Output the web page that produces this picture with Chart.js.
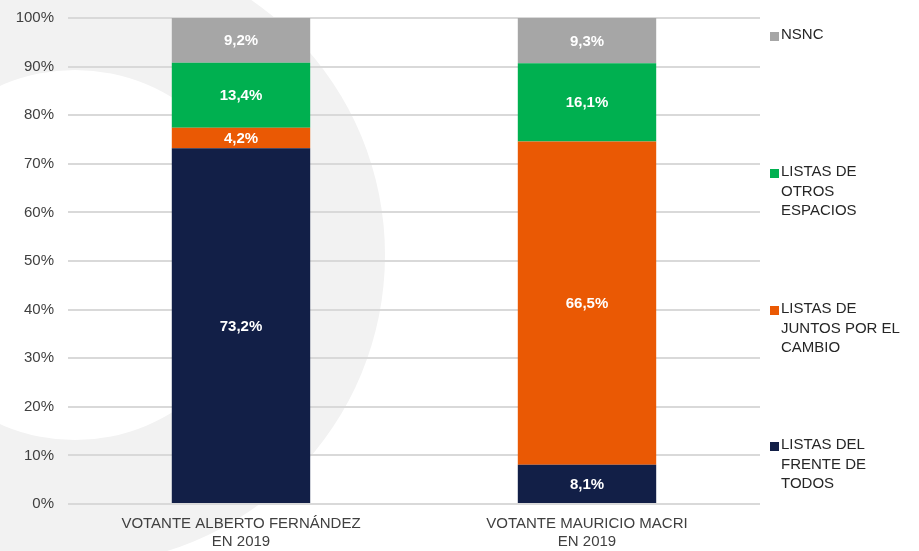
<!DOCTYPE html>
<html>
<head>
<meta charset="utf-8">
<script src="https://cdn.jsdelivr.net/npm/chart.js@4.4.1/dist/chart.umd.min.js"></script>
<style>
    body { margin: 0; background: #ffffff; }
    #wrap { width: 919px; height: 551px; }
</style>
</head>
<body>
<div id="wrap"><canvas id="myChart1" width="919" height="551"></canvas></div>
<script>
// categories and values (percent of each voter group)
const categories = [
    ["VOTANTE ALBERTO FERNÁNDEZ", "EN 2019"],
    ["VOTANTE MAURICIO MACRI", "EN 2019"]
];
const frente_de_todos = [73.2, 8.1];
const juntos_por_el_cambio = [4.2, 66.5];
const otros_espacios = [13.4, 16.1];
const nsnc = [9.2, 9.3];

const series_names = ["LISTAS DEL FRENTE DE TODOS", "LISTAS DE JUNTOS POR EL CAMBIO", "LISTAS DE OTROS ESPACIOS", "NSNC"];
const legend_lines = [
    ["LISTAS DEL", "FRENTE DE", "TODOS"],
    ["LISTAS DE", "JUNTOS POR EL", "CAMBIO"],
    ["LISTAS DE", "OTROS", "ESPACIOS"],
    ["NSNC"]
];
const y_min = 0;
const y_max = 100;
const y_step = 10;

const FONT = "'Liberation Sans', Arial, sans-serif";
const TEXT_COLOR = "#404040";

// grey ring watermark behind the plot
const ringPlugin = {
    id: "ring",
    beforeDraw(chart) {
        const ctx = chart.ctx;
        ctx.save();
        ctx.fillStyle = "#ffffff";
        ctx.fillRect(0, 0, chart.width, chart.height);
        ctx.beginPath();
        ctx.arc(75, 255, 310, 0, Math.PI * 2);
        ctx.arc(75, 255, 185, 0, Math.PI * 2, true);
        ctx.fillStyle = "#f2f2f2";
        ctx.fill("evenodd");
        ctx.restore();
    }
};

// white value labels centred in each segment
const valueLabels = {
    id: "valueLabels",
    afterDatasetsDraw(chart) {
        const ctx = chart.ctx;
        ctx.save();
        ctx.fillStyle = "#ffffff";
        ctx.font = "bold 15px " + FONT;
        ctx.textAlign = "center";
        ctx.textBaseline = "middle";
        chart.data.datasets.forEach(function (ds, i) {
            chart.getDatasetMeta(i).data.forEach(function (bar, j) {
                let txt = ds.data[j].toFixed(1).replace(".", ",") + "%";
                ctx.fillText(txt, bar.x, (bar.y + bar.base) / 2 + 1);
            });
        });
        ctx.restore();
    }
};

// legend on the right, top entry = last dataset
const sideLegend = {
    id: "sideLegend",
    afterDraw(chart) {
        const ctx = chart.ctx;
        const legend_top = [35, 172, 309, 445];
        ctx.save();
        ctx.font = "15px " + FONT;
        ctx.textBaseline = "middle";
        ctx.textAlign = "left";
        let sets = chart.data.datasets;
        for (let k = 0; k < sets.length; k++) {
            let idx = sets.length - 1 - k;
            let y = legend_top[k];
            ctx.fillStyle = sets[idx].backgroundColor;
            ctx.fillRect(770, y - 3, 9, 9);
            ctx.fillStyle = "#262626";
            legend_lines[idx].forEach(function (line, n) {
                ctx.fillText(line, 781, y + n * 19.5);
            });
        }
        ctx.restore();
    }
};

const ctx = document.getElementById("myChart1").getContext("2d");
const myChart = new Chart(ctx, {
    type: "bar",
    data: {
        labels: categories,
        datasets: [
            { label: series_names[0], data: frente_de_todos, backgroundColor: "#121f47" },
            { label: series_names[1], data: juntos_por_el_cambio, backgroundColor: "#ea5904" },
            { label: series_names[2], data: otros_espacios, backgroundColor: "#00b050" },
            { label: series_names[3], data: nsnc, backgroundColor: "#a6a6a6" }
        ]
    },
    options: {
        responsive: false,
        animation: false,
        layout: { padding: { top: 18, right: 159, bottom: 0, left: 0 } },
        datasets: {
            bar: { categoryPercentage: 1, barPercentage: 0.4, borderWidth: 0 }
        },
        plugins: {
            legend: { display: false },
            tooltip: { enabled: false }
        },
        scales: {
            x: {
                stacked: true,
                grid: { display: false },
                border: { display: false },
                ticks: {
                    color: TEXT_COLOR,
                    font: { family: FONT, size: 15 },
                    padding: 3,
                    maxRotation: 0
                },
                afterFit: function (scale) { scale.height = 47; }
            },
            y: {
                stacked: true,
                min: y_min,
                max: y_max,
                border: { display: false },
                grid: { color: "#d9d9d9", lineWidth: 2, drawTicks: false },
                ticks: {
                    stepSize: y_step,
                    color: TEXT_COLOR,
                    font: { family: FONT, size: 15 },
                    padding: 14,
                    callback: function (v) { return v + "%"; }
                },
                afterFit: function (scale) {
                    scale.width = 68;
                    scale.paddingTop = 0;
                    scale.paddingBottom = 0;
                }
            }
        }
    },
    plugins: [ringPlugin, valueLabels, sideLegend]
});
</script>
</body>
</html>
